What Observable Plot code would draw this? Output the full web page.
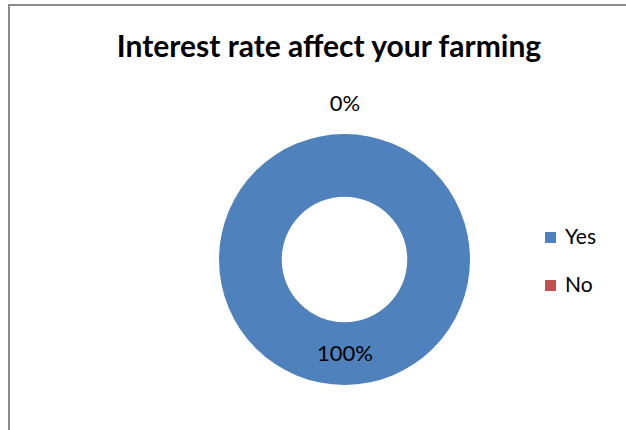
<!DOCTYPE html>
<html><head><meta charset="utf-8">
<script src="https://cdn.jsdelivr.net/npm/d3@7"></script>
<script src="https://cdn.jsdelivr.net/npm/@observablehq/plot@0.6"></script>
<style>
body{margin:0;background:#fff;font-family:Lato,"Open Sans",sans-serif}
#wrap{position:relative;width:626px;height:430px;overflow:hidden}
#border{position:absolute;left:8px;top:4px;width:700px;height:500px;border-left:2.5px solid #8c8c8c;border-top:2px solid #8c8c8c;box-sizing:border-box;pointer-events:none}
#legend{position:absolute;left:545px;top:223px}
#chart svg{display:block}
#legend *{font-family:Lato,"Open Sans",sans-serif !important;font-size:21px !important;color:#000 !important;line-height:25px !important}
#legend .lg{margin:0 !important;columns:auto !important}
#legend .lg-swatch{display:flex !important;align-items:center !important;height:25px !important;margin:0 0 23px 0 !important;padding:0 !important}
#legend .lg-swatch svg{width:11px !important;height:11px !important;margin-right:9px !important;position:relative;top:2px;flex:none;overflow:visible}
#legend .lg-swatch svg rect{x:0;y:0;width:11px;height:11px}
</style>
</head><body><div id="wrap"><div id="chart"></div><div id="legend"></div><div id="border"></div></div>
<script>
const title = "Interest rate affect your farming";
const categories = ["Yes", "No"];
const values = [100, 0];
const colors = ["#4F81BD", "#C0504D"];

const data = categories.map((c, i) => ({category: c, value: values[i]}));
const total = d3.sum(values);
const slices = d3.pie().sort(null).value(d => d.value)(data);
const innerRatio = 0.5;

// label positions in radius units (polar -> cartesian)
const labels = slices.map(s => {
  const a = (s.startAngle + s.endAngle) / 2;
  const r = s.value > 0 ? (1 + innerRatio) / 2 : 1.24;
  return {x: r * Math.sin(a), y: r * Math.cos(a), text: Math.round(s.value / total * 100) + "%"};
});

const W = 626, H = 430, cx = 344.5, cy = 259.5, R = 125.5;

const chart = Plot.plot({
  width: W, height: H,
  margin: 0,
  x: {domain: [-cx / R, (W - cx) / R], axis: null},
  y: {domain: [-(H - cy) / R, cy / R], axis: null},
  color: {domain: categories, range: colors},
  style: {fontFamily: "Lato, 'Open Sans', sans-serif", background: "white"},
  marks: [
    Plot.dot(slices, {
      x: () => 0, y: () => 0, fill: d => d.data.category,
      render(index, scales, vals) {
        const ox = scales.x(0), oy = scales.y(0);
        const rr = scales.x(1) - scales.x(0);
        const arc = d3.arc().innerRadius(rr * innerRatio).outerRadius(rr);
        const g = d3.create("svg:g").attr("transform", `translate(${ox},${oy})`);
        g.selectAll("path").data(index).join("path")
          .attr("d", i => arc(slices[i]))
          .attr("fill", i => vals.fill[i]);
        return g.node();
      }
    }),
    Plot.text(labels, {x: "x", y: "y", text: "text", fontSize: 22, fill: "black"}),
    Plot.text([title], {frameAnchor: "top", dx: 15.5, dy: 56, lineAnchor: "bottom", text: d => d, fontSize: 30, fontWeight: "bold", fill: "black"})
  ]
});
document.getElementById("chart").append(chart);

const legend = Plot.legend({
  color: {domain: categories, range: colors},
  legend: "swatches", columns: 1, swatchSize: 11, className: "lg"
});
document.getElementById("legend").append(legend);
</script></body></html>
